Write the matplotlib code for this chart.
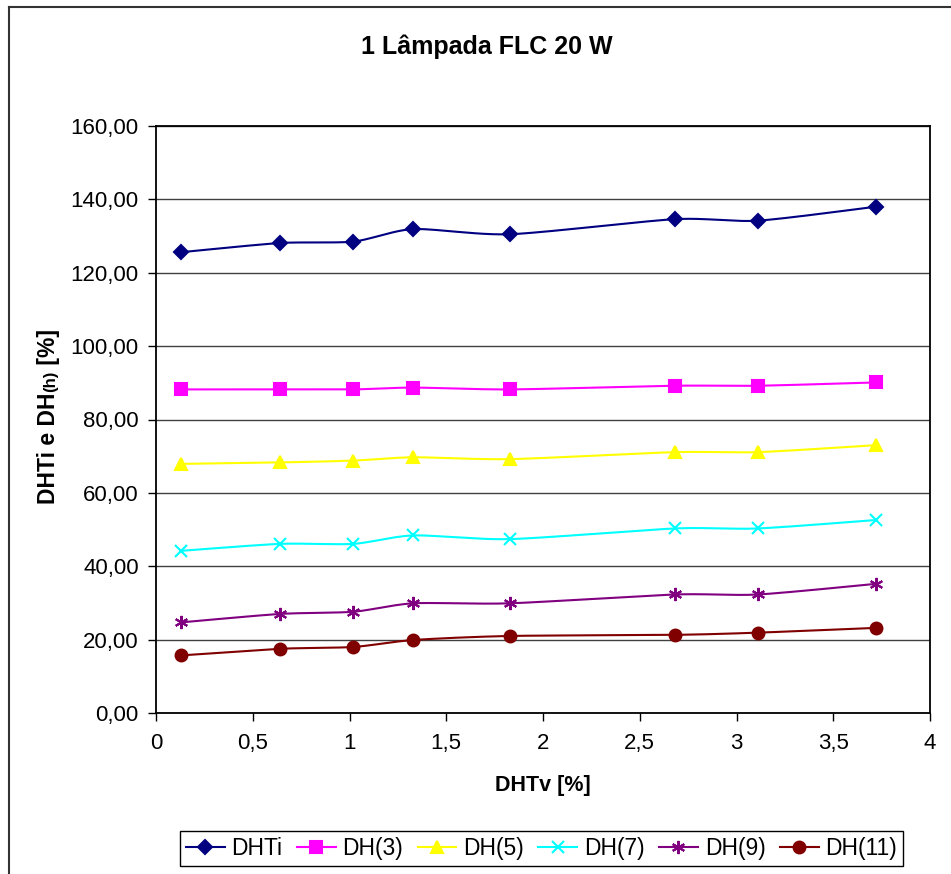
import numpy as np
import matplotlib
matplotlib.use("Agg")
import matplotlib.pyplot as plt
from matplotlib.lines import Line2D
from matplotlib.ticker import FuncFormatter, MultipleLocator

plt.rcParams['font.family'] = ['Liberation Sans', 'DejaVu Sans']

# values
dhtv = [0.13, 0.64, 1.02, 1.33, 1.83, 2.68, 3.11, 3.72]
dhti = [125.6, 128.1, 128.5, 131.9, 130.5, 134.6, 134.2, 138.0]
dh3 = [88.2, 88.2, 88.2, 88.7, 88.2, 89.2, 89.2, 90.1]
dh5 = [67.9, 68.3, 68.8, 69.7, 69.2, 71.1, 71.1, 73.0]
dh7 = [44.2, 46.1, 46.1, 48.4, 47.4, 50.3, 50.3, 52.6]
dh9 = [24.7, 27.0, 27.6, 29.9, 29.9, 32.3, 32.3, 35.2]
dh11 = [15.7, 17.5, 18.0, 19.9, 21.0, 21.3, 21.9, 23.2]

labels = ['DHTi', 'DH(3)', 'DH(5)', 'DH(7)', 'DH(9)', 'DH(11)']
series = [dhti, dh3, dh5, dh7, dh9, dh11]
colors = ['#000080', '#FF00FF', '#FFFF00', '#00FFFF', '#800080', '#800000']
markers = ['D', 's', '^', 'x', (6, 2, 0), 'o']
msizes = [7.5, 8, 9, 8.5, 9.5, 8.5]


def smooth(x, y, n=25):
    # Excel-like smoothed line: cubic Bezier through the points
    p = np.column_stack([x, y]).astype(float)
    q = np.vstack([p[0], p, p[-1]])
    t = np.linspace(0, 1, n)[:, None]
    out = []
    for i in range(len(p) - 1):
        p0, p1, p2, p3 = q[i], q[i + 1], q[i + 2], q[i + 3]
        c1 = p1 + (p2 - p0) / 8
        c2 = p2 - (p3 - p1) / 8
        b = ((1 - t) ** 3) * p1 + 3 * ((1 - t) ** 2) * t * c1 \
            + 3 * (1 - t) * t ** 2 * c2 + t ** 3 * p2
        out.append(b if i == 0 else b[1:])
    out = np.vstack(out)
    return out[:, 0], out[:, 1]


W, H = 951, 874
fig = plt.figure(figsize=(W / 100, H / 100), dpi=100)
ax = fig.add_axes([156 / W, 1 - 713 / H, (930 - 156) / W, (713 - 126) / H])

handles = []
for vals, lab, c, m, ms in zip(series, labels, colors, markers, msizes):
    sx, sy = smooth(dhtv, vals)
    ax.plot(sx, sy, color=c, lw=1.5, zorder=3)
    ax.plot(dhtv, vals, ls='none', marker=m, ms=ms, color=c, mec=c,
            mew=1.5, zorder=4)
    handles.append(Line2D([], [], color=c, lw=1.5, marker=m, ms=ms,
                          mec=c, mew=1.5, label=lab))

ax.set_xlim(0, 4)
ax.set_ylim(0, 160)
ax.xaxis.set_major_locator(MultipleLocator(0.5))
ax.yaxis.set_major_locator(MultipleLocator(20))
ax.xaxis.set_major_formatter(FuncFormatter(
    lambda v, p: ('%g' % v).replace('.', ',')))
ax.yaxis.set_major_formatter(FuncFormatter(
    lambda v, p: ('%.2f' % v).replace('.', ',')))
ax.grid(axis='y', color='#404040', lw=1)
ax.set_axisbelow(True)
for s in ax.spines.values():
    s.set_linewidth(1.3)
    s.set_color('black')
ax.tick_params(axis='both', direction='out', length=5.5, width=1,
               labelsize=16, colors='black')
ax.tick_params(axis='x', pad=9)
ax.tick_params(axis='y', pad=7)

fig.text(487 / W, 1 - 47 / H, '1 Lâmpada FLC 20 W', fontsize=18,
         fontweight='bold', ha='center', va='center')
fig.text(543 / W, 1 - 786 / H, 'DHTv [%]', fontsize=15.5,
         fontweight='bold', ha='center', va='center')

# y label in pieces, "(h)" in a smaller size
fig.canvas.draw()
renderer = fig.canvas.get_renderer()
ybase = 504
for txt, fs in [('DHTi e DH', 16.5), ('(h)', 12), (' [%]', 16.5)]:
    t = fig.text(55 / W, 1 - ybase / H, txt, fontsize=fs, fontweight='bold',
                 rotation=90, rotation_mode='anchor', ha='left',
                 va='baseline')
    ext = t.get_window_extent(renderer)
    ybase -= ext.height

fig.legend(handles=handles, loc='center', ncol=6,
           bbox_to_anchor=(541.5 / W, 1 - 848.5 / H),
           bbox_transform=fig.transFigure, fontsize=16.5, frameon=True,
           fancybox=False, edgecolor='black', framealpha=1,
           handlelength=1.7, handletextpad=0.3, columnspacing=0.62,
           borderpad=0.25, borderaxespad=0, numpoints=1)
fig.legends[0].get_frame().set_linewidth(1)

# chart-area border (left and top visible)
fig.add_artist(Line2D([9 / W, 9 / W], [0, 1 - 6.5 / H],
                      transform=fig.transFigure, color='#333333', lw=1.5))
fig.add_artist(Line2D([9 / W, 1], [1 - 6.5 / H, 1 - 6.5 / H],
                      transform=fig.transFigure, color='#333333', lw=1.5))

fig.savefig('out.png', dpi=100)
